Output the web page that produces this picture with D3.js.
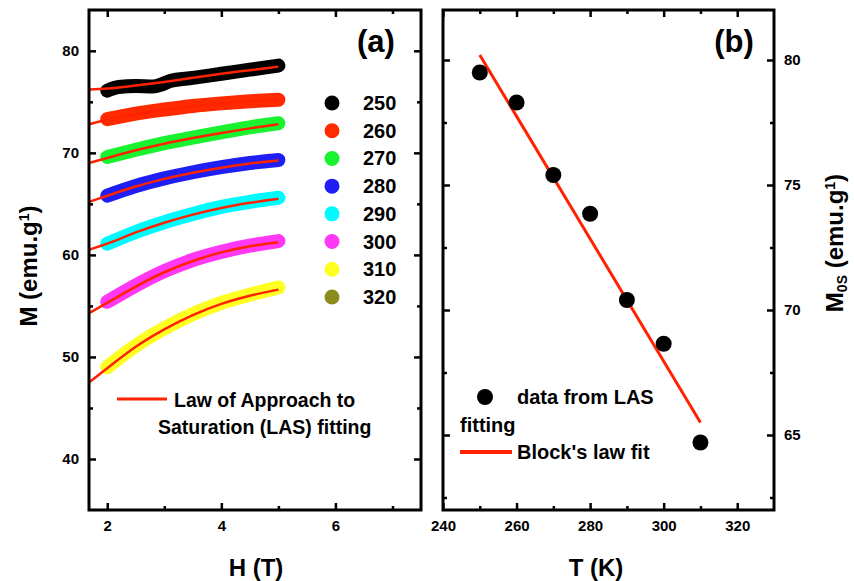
<!DOCTYPE html>
<html lang="en">
<head>
  <meta charset="UTF-8">
  <title>LAS fitting</title>
  <script src="https://d3js.org/d3.v7.min.js"></script>
  <style>
    html, body {
      margin: 0;
      padding: 0;
      background: #fff;
      overflow: hidden;
    }
    svg text {
      font-family: "Liberation Sans", Arial, sans-serif;
      font-weight: bold;
    }
  </style>
</head>
<body>
  <svg id="chart" width="854" height="581"></svg>
  <script>
    // panel (a): M vs H for each temperature
    const temps = [250, 260, 270, 280, 290, 300, 310, 320];
    const colors = ['#000000', '#ff2a00', '#19f22e', '#1f1ff5', '#00fbff', '#ff38f5', '#ffff22', '#8c8c1c'];

    const fieldH = [2, 2.5, 3, 3.5, 4, 4.5, 5];
    const fieldH250 = [2, 2.2, 2.5, 2.8, 2.95, 3.1, 3.5, 4, 4.5, 5];
    const m250 = [76.1, 76.45, 76.55, 76.5, 76.7, 77.05, 77.35, 77.75, 78.15, 78.55];
    const m260 = [73.3, 73.85, 74.25, 74.6, 74.85, 75.05, 75.2];
    const m270 = [69.6, 70.3, 70.95, 71.5, 72.0, 72.5, 72.9];
    const m280 = [65.8, 66.75, 67.5, 68.1, 68.6, 69.0, 69.3];
    const m290 = [61.1, 62.25, 63.2, 64.0, 64.7, 65.2, 65.6];
    const m300 = [55.4, 57.0, 58.4, 59.5, 60.3, 60.9, 61.35];
    const m310 = [49.0, 51.1, 52.8, 54.2, 55.3, 56.1, 56.8];

    // LAS fit curves
    const fitH = [1.68, 2, 2.5, 3, 3.5, 4, 4.5, 5];
    const fit250 = [76.2, 76.3, 76.6, 76.95, 77.35, 77.75, 78.1, 78.45];
    const fit260 = [72.8, 73.25, 73.8, 74.2, 74.55, 74.85, 75.05, 75.2];
    const fit270 = [69.0, 69.5, 70.25, 70.9, 71.45, 71.95, 72.4, 72.8];
    const fit280 = [65.2, 65.8, 66.7, 67.45, 68.05, 68.55, 68.95, 69.25];
    const fit290 = [60.5, 61.1, 62.2, 63.15, 63.95, 64.6, 65.1, 65.5];
    const fit300 = [54.3, 55.3, 56.9, 58.3, 59.4, 60.25, 60.85, 61.25];
    const fit310 = [47.5, 48.9, 51.0, 52.7, 54.1, 55.2, 56.0, 56.6];

    const hTicks = [2, 4, 6];
    const hMinor = [3, 5, 7];
    const mTicks = [40, 50, 60, 70, 80];
    const mMinor = [45, 55, 65, 75];

    // panel (b): M0S vs T
    const tempK = [250, 260, 270, 280, 290, 300, 310];
    const m0s = [79.5, 78.3, 75.4, 73.85, 70.4, 68.65, 64.7];
    const blochT = [250, 310];
    const blochM = [80.2, 65.5];

    const tTicks = [240, 260, 280, 300, 320];
    const tMinor = [250, 270, 290, 310];
    const m0Ticks = [65, 70, 75, 80];
    const m0Minor = [62.5, 67.5, 72.5, 77.5];

    const fitColor = '#ff2200';
    const svg = d3.select('#chart');

    // draws the closed frame with inward ticks on all four sides
    function frameAxes(g, x, y, opts) {
      const [x0, x1] = x.range();
      const [y0, y1] = y.range();
      const major = 7, minor = 4;

      const addAxis = (axisFn, scale, ticks, size, labels, transform) => {
        const a = axisFn(scale).tickValues(ticks).tickSizeInner(-size).tickSizeOuter(0).tickPadding(10);
        a.tickFormat(labels ? (d => d) : '');
        const ag = g.append('g').attr('transform', transform).call(a);
        ag.select('.domain').remove();
        ag.selectAll('line').attr('stroke', '#000').attr('stroke-width', 2.5);
        ag.selectAll('text').attr('fill', '#000').style('font-size', '15px');
        return ag;
      };

      addAxis(d3.axisBottom, x, opts.xTicks, major, true, `translate(0,${y0})`);
      addAxis(d3.axisBottom, x, opts.xMinor, minor, false, `translate(0,${y0})`);
      addAxis(d3.axisTop, x, opts.xTicks, major, false, `translate(0,${y1})`);
      addAxis(d3.axisTop, x, opts.xMinor, minor, false, `translate(0,${y1})`);
      addAxis(d3.axisLeft, y, opts.yTicks, major, opts.yLeftLabels, `translate(${x0},0)`);
      addAxis(d3.axisLeft, y, opts.yMinor, minor, false, `translate(${x0},0)`);
      addAxis(d3.axisRight, y, opts.yTicks, major, !opts.yLeftLabels, `translate(${x1},0)`);
      addAxis(d3.axisRight, y, opts.yMinor, minor, false, `translate(${x1},0)`);

      g.append('rect')
        .attr('x', x0).attr('y', y1)
        .attr('width', x1 - x0).attr('height', y0 - y1)
        .attr('fill', 'none').attr('stroke', '#000').attr('stroke-width', 3);
    }

    // ---------- panel (a) ----------
    const xA = d3.scaleLinear().domain([1.68, 7.5]).range([89, 421]);
    const yA = d3.scaleLinear().domain([35, 84]).range([510, 10]);
    const gA = svg.append('g');

    const dataSeries = [
      { h: fieldH250, m: m250 },
      { h: fieldH, m: m260 },
      { h: fieldH, m: m270 },
      { h: fieldH, m: m280 },
      { h: fieldH, m: m290 },
      { h: fieldH, m: m300 },
      { h: fieldH, m: m310 }
    ];
    const fitSeries = [fit250, fit260, fit270, fit280, fit290, fit300, fit310];

    const lineA = d3.line()
      .x(d => xA(d[0]))
      .y(d => yA(d[1]))
      .curve(d3.curveMonotoneX);

    // dense data markers show as thick bands
    gA.selectAll('path.band')
      .data(dataSeries)
      .join('path')
      .attr('class', 'band')
      .attr('d', s => lineA(s.h.map((h, i) => [h, s.m[i]])))
      .attr('fill', 'none')
      .attr('stroke', (s, i) => colors[i])
      .attr('stroke-width', 14)
      .attr('stroke-linecap', 'round')
      .attr('stroke-linejoin', 'round');

    gA.selectAll('path.fit')
      .data(fitSeries)
      .join('path')
      .attr('class', 'fit')
      .attr('d', f => lineA(fitH.map((h, i) => [h, f[i]])))
      .attr('fill', 'none')
      .attr('stroke', fitColor)
      .attr('stroke-width', 2.5);

    frameAxes(gA, xA, yA, {
      xTicks: hTicks, xMinor: hMinor, yTicks: mTicks, yMinor: mMinor, yLeftLabels: true
    });

    // temperature legend
    const legA = gA.append('g');
    const legY = d3.scalePoint().domain(temps).range([103, 297]);
    legA.selectAll('circle')
      .data(temps)
      .join('circle')
      .attr('cx', 332)
      .attr('cy', d => legY(d))
      .attr('r', 7.5)
      .attr('fill', (d, i) => colors[i]);
    legA.selectAll('text')
      .data(temps)
      .join('text')
      .attr('x', 363)
      .attr('y', d => legY(d) + 7)
      .style('font-size', '20px')
      .text(d => d);

    // LAS legend
    gA.append('line')
      .attr('x1', 117).attr('x2', 167)
      .attr('y1', 399).attr('y2', 399)
      .attr('stroke', fitColor).attr('stroke-width', 3);
    gA.append('text').attr('x', 174).attr('y', 407).style('font-size', '19.5px').text('Law of Approach to');
    gA.append('text').attr('x', 158).attr('y', 434).style('font-size', '19.5px').text('Saturation (LAS) fitting');

    gA.append('text').attr('x', 376).attr('y', 52).attr('text-anchor', 'middle')
      .style('font-size', '31px').text('(a)');

    gA.append('text').attr('x', 256).attr('y', 576).attr('text-anchor', 'middle')
      .style('font-size', '24px').text('H (T)');
    const yTitleA = gA.append('text')
      .attr('transform', 'translate(37,266) rotate(-90)')
      .attr('text-anchor', 'middle')
      .style('font-size', '24px');
    yTitleA.append('tspan').text('M (emu.g');
    yTitleA.append('tspan').attr('baseline-shift', '55%').style('font-size', '14px').text('1');
    yTitleA.append('tspan').text(')');

    // ---------- panel (b) ----------
    const xB = d3.scaleLinear().domain([240, 330]).range([443, 774]);
    const yB = d3.scaleLinear().domain([62, 82]).range([510, 10]);
    const gB = svg.append('g');

    gB.append('path')
      .datum(blochT.map((t, i) => [t, blochM[i]]))
      .attr('d', d3.line().x(d => xB(d[0])).y(d => yB(d[1])))
      .attr('fill', 'none')
      .attr('stroke', fitColor)
      .attr('stroke-width', 3);

    gB.selectAll('circle.pt')
      .data(tempK)
      .join('circle')
      .attr('class', 'pt')
      .attr('cx', d => xB(d))
      .attr('cy', (d, i) => yB(m0s[i]))
      .attr('r', 8)
      .attr('fill', '#000');

    frameAxes(gB, xB, yB, {
      xTicks: tTicks, xMinor: tMinor, yTicks: m0Ticks, yMinor: m0Minor, yLeftLabels: false
    });

    // legend (b)
    gB.append('circle').attr('cx', 485).attr('cy', 397).attr('r', 8).attr('fill', '#000');
    gB.append('text').attr('x', 517).attr('y', 404).style('font-size', '20px').text('data from LAS');
    gB.append('text').attr('x', 460).attr('y', 432).style('font-size', '20px').text('fitting');
    gB.append('line')
      .attr('x1', 460).attr('x2', 512)
      .attr('y1', 452).attr('y2', 452)
      .attr('stroke', fitColor).attr('stroke-width', 4);
    gB.append('text').attr('x', 517).attr('y', 459).style('font-size', '20px').text("Block's law fit");

    gB.append('text').attr('x', 734).attr('y', 52).attr('text-anchor', 'middle')
      .style('font-size', '31px').text('(b)');

    gB.append('text').attr('x', 596).attr('y', 576).attr('text-anchor', 'middle')
      .style('font-size', '24px').text('T (K)');
    const yTitleB = gB.append('text')
      .attr('transform', 'translate(843,243) rotate(-90)')
      .attr('text-anchor', 'middle')
      .style('font-size', '24px');
    yTitleB.append('tspan').text('M');
    yTitleB.append('tspan').attr('baseline-shift', '-25%').style('font-size', '14px').text('0S');
    yTitleB.append('tspan').text(' (emu.g');
    yTitleB.append('tspan').attr('baseline-shift', '55%').style('font-size', '14px').text('1');
    yTitleB.append('tspan').text(')');
  </script>
</body>
</html>
